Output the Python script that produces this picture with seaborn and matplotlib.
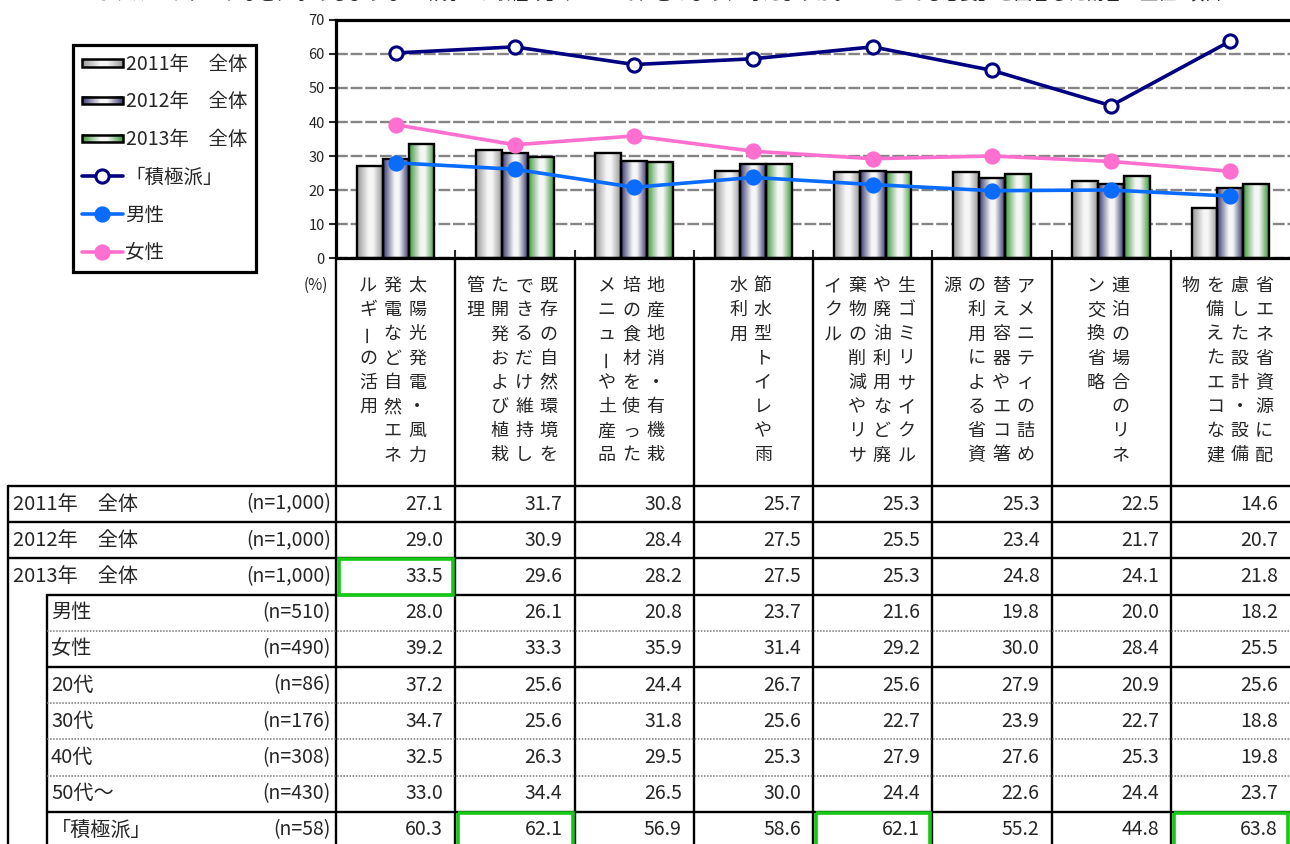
import numpy as np
import pandas as pd
import matplotlib
matplotlib.use("Agg")
import matplotlib.pyplot as plt
import seaborn as sns
from matplotlib.colors import LinearSegmentedColormap
from matplotlib.patches import Rectangle, Patch
from matplotlib.lines import Line2D
from matplotlib.legend_handler import HandlerBase
from matplotlib.image import BboxImage
from matplotlib.transforms import Bbox, TransformedBbox

# ---------------- data ----------------
title = "エコホテル・リゾートなどに求めるような「環境への取組み」について、どのように考えますか。　「とても必要」と回答した割合　上位8項目"
categories = [
    "太陽光発電・風力発電など自然エネルギーの活用",
    "既存の自然環境をできるだけ維持した開発および植栽管理",
    "地産地消・有機栽培の食材を使ったメニューや土産品",
    "節水型トイレや雨水利用",
    "生ゴミリサイクルや廃油利用など廃棄物の削減やリサイクル",
    "アメニティの詰め替え容器やエコ箸の利用による省資源",
    "連泊の場合のリネン交換省略",
    "省エネ省資源に配慮した設計・設備を備えたエコな建物",
]
year_labels = ["2011年　全体", "2012年　全体", "2013年　全体"]
y2011 = [27.1, 31.7, 30.8, 25.7, 25.3, 25.3, 22.5, 14.6]
y2012 = [29.0, 30.9, 28.4, 27.5, 25.5, 23.4, 21.7, 20.7]
y2013 = [33.5, 29.6, 28.2, 27.5, 25.3, 24.8, 24.1, 21.8]
male = [28.0, 26.1, 20.8, 23.7, 21.6, 19.8, 20.0, 18.2]
female = [39.2, 33.3, 35.9, 31.4, 29.2, 30.0, 28.4, 25.5]
age20 = [37.2, 25.6, 24.4, 26.7, 25.6, 27.9, 20.9, 25.6]
age30 = [34.7, 25.6, 31.8, 25.6, 22.7, 23.9, 22.7, 18.8]
age40 = [32.5, 26.3, 29.5, 25.3, 27.9, 27.6, 25.3, 19.8]
age50 = [33.0, 34.4, 26.5, 30.0, 24.4, 22.6, 24.4, 23.7]
active = [60.3, 62.1, 56.9, 58.6, 62.1, 55.2, 44.8, 63.8]

line_labels = ["「積極派」", "男性", "女性"]
row_labels = ["2011年　全体", "2012年　全体", "2013年　全体", "男性", "女性",
              "20代", "30代", "40代", "50代～", "「積極派」"]
row_n = ["(n=1,000)", "(n=1,000)", "(n=1,000)", "(n=510)", "(n=490)",
         "(n=86)", "(n=176)", "(n=308)", "(n=430)", "(n=58)"]
row_values = [y2011, y2012, y2013, male, female, age20, age30, age40, age50, active]
highlight_cells = [(2, 0), (9, 1), (9, 4), (9, 7)]
y_ticks = [0, 10, 20, 30, 40, 50, 60, 70]

# ---------------- style ----------------
sns.set_theme(style="white")
plt.rcParams["font.family"] = ["Noto Sans CJK JP", "DejaVu Sans"]

bar_edge_colors = ["#979797", "#3a3a70", "#3c983c"]
bar_light = "#f6f6f6"
line_colors = ["#000080", "#0a6cff", "#ff6fcf"]

W, H = 1290, 844
fig = plt.figure(figsize=(W / 100, H / 100), dpi=100)
ov = fig.add_axes([0, 0, 1, 1])
ov.set_xlim(0, W)
ov.set_ylim(H, 0)
ov.axis("off")

plot_left, plot_right, plot_top, plot_bottom = 336, 1290, 20, 258
ax = fig.add_axes([plot_left / W, 1 - plot_bottom / H,
                   (plot_right - plot_left) / W, (plot_bottom - plot_top) / H])


def grad_cmap(edge):
    return LinearSegmentedColormap.from_list(
        "g", [(0.0, edge), (0.45, bar_light), (0.62, bar_light), (1.0, edge)])


# ---------------- bars ----------------
n = len(categories)
df_bars = pd.DataFrame({
    "item": np.tile(np.arange(n), 3),
    "year": np.repeat(year_labels, n),
    "value": y2011 + y2012 + y2013,
})
sns.barplot(data=df_bars, x="item", y="value", hue="year", hue_order=year_labels,
            palette=bar_edge_colors, width=0.65, saturation=1, edgecolor="black",
            linewidth=1.7, legend=False, errorbar=None, ax=ax)

grad = np.linspace(0, 1, 128).reshape(1, -1)
for p in list(ax.patches):
    x0, w, h = p.get_x(), p.get_width(), p.get_height()
    fc = p.get_facecolor()
    ax.imshow(grad, extent=[x0, x0 + w, 0, h], aspect="auto",
              cmap=grad_cmap(fc[:3]), zorder=1.5, interpolation="bilinear")
    p.set_facecolor("none")
    p.set_zorder(2)

# ---------------- lines ----------------
idx = np.arange(n)
for vals, col, lab in zip([active, male, female], line_colors, line_labels):
    mfc = "white" if lab == "「積極派」" else col
    sns.lineplot(x=idx, y=vals, ax=ax, color=col, marker="o", markersize=9.5,
                 markerfacecolor=mfc, markeredgecolor=col, markeredgewidth=2.2,
                 linewidth=2.6, zorder=6)

ax.set_xlim(-0.5, n - 0.5)
ax.set_ylim(0, 70)
ax.set_yticks(y_ticks)
ax.set_yticklabels([str(t) for t in y_ticks], fontsize=10.5)
ax.set_xticks(np.arange(0.5, n - 1, 1))
ax.set_xticklabels([])
ax.tick_params(axis="y", left=True, direction="out", length=5, width=1.5, pad=3)
ax.tick_params(axis="x", bottom=True, direction="in", length=6, width=1.5)
ax.yaxis.grid(True, color="#858585", linewidth=1.7, linestyle=(0, (5, 1.2)))
ax.xaxis.grid(False)
ax.set_axisbelow(True)
ax.set_xlabel("")
ax.set_ylabel("")
for s in ax.spines.values():
    s.set_linewidth(2.3)
    s.set_color("black")
ax.spines["right"].set_visible(False)

# ---------------- legend ----------------
class GradHandler(HandlerBase):
    def __init__(self, edge):
        super().__init__()
        self.edge = edge

    def create_artists(self, legend, orig_handle, xdescent, ydescent,
                       width, height, fontsize, trans):
        hh = height * 0.55
        y0 = -ydescent + (height - hh) / 2
        bb = Bbox.from_bounds(-xdescent, y0, width, hh)
        img = BboxImage(TransformedBbox(bb, trans), cmap=grad_cmap(self.edge),
                        interpolation="bilinear")
        img.set_data(grad)
        rect = Rectangle((-xdescent, y0), width, hh, facecolor="none",
                         edgecolor="black", linewidth=1.8, transform=trans)
        return [img, rect]


bar_handles = [Patch(label=l) for l in year_labels]
line_handles = []
for col, lab in zip(line_colors, line_labels):
    mfc = "white" if lab == "「積極派」" else col
    line_handles.append(Line2D([], [], color=col, marker="o", markersize=9.5,
                               markerfacecolor=mfc, markeredgecolor=col,
                               markeredgewidth=2.2, linewidth=2.6))
hmap = {h: GradHandler(c) for h, c in zip(bar_handles, bar_edge_colors)}
leg = fig.legend(bar_handles + line_handles, year_labels + line_labels,
                 handler_map=hmap, loc="upper left",
                 bbox_to_anchor=(73 / W, 1 - 45 / H), frameon=True,
                 fancybox=False, edgecolor="black", framealpha=1, fontsize=14,
                 handlelength=2.1, handletextpad=0.15, labelspacing=0.86,
                 borderpad=0.45, borderaxespad=0)
leg.get_frame().set_linewidth(2.3)

# ---------------- category labels (vertical writing) ----------------
col_w = (plot_right - plot_left) / n
col_lefts = [plot_left + k * col_w for k in range(n)]
label_top, table_top = 260, 486
ov.text(316, 285, "(%)", fontsize=11, ha="center", va="center")
step_y, step_x, per_col = 24.2, 24.5, 8
for k, text in enumerate(categories):
    chunks = [text[i:i + per_col] for i in range(0, len(text), per_col)]
    cx = col_lefts[k] + col_w / 2 - 3
    ncol = len(chunks)
    for j, ch in enumerate(chunks):
        x = cx + (ncol - 1) / 2 * step_x - j * step_x
        for r, c in enumerate(ch):
            rot = 90 if c == "ー" else 0
            ov.text(x, 286 + r * step_y, c, fontsize=13, ha="center",
                    va="center", rotation=rot)

# ---------------- table ----------------
row_h = 36.2
lw_solid = 1.7
for k in range(n):
    x = col_lefts[k]
    ov.plot([x, x], [label_top, H], color="black", lw=lw_solid)
ov.plot([8, W], [table_top, table_top], color="black", lw=lw_solid)
ov.plot([8, 8], [table_top, H], color="black", lw=lw_solid)
ov.plot([47, 47], [table_top + 3 * row_h, H], color="black", lw=lw_solid)
for i in range(1, len(row_labels)):
    y = table_top + i * row_h
    if i in (1, 2):
        ov.plot([8, W], [y, y], color="black", lw=lw_solid)
    elif i in (3, 5, 9):
        ov.plot([47, W], [y, y], color="black", lw=lw_solid)
    else:
        ov.plot([47, W], [y, y], color="#777777", lw=1.1, linestyle=(0, (1, 1)))

for i, (lab, nn, vals) in enumerate(zip(row_labels, row_n, row_values)):
    yc = table_top + (i + 0.5) * row_h
    lx = 13 if i < 3 else 51
    ov.text(lx, yc, lab, fontsize=14.5, ha="left", va="center")
    ov.text(331, yc, nn, fontsize=14, ha="right", va="center")
    for k, v in enumerate(vals):
        ov.text(col_lefts[k] + col_w - 12, yc, f"{v:.1f}", fontsize=14,
                ha="right", va="center")

for (i, k) in highlight_cells:
    y0 = table_top + i * row_h
    ov.add_patch(Rectangle((col_lefts[k] + 3, y0 + 1), col_w - 5, row_h - 1,
                           facecolor="none", edgecolor="#14c814", linewidth=2.6,
                           zorder=5))

# ---------------- clipped title (cut at the top edge, as in the source) ----------------
ov.text(60, -4, title, fontsize=13, ha="left", va="center")

fig.savefig("out.png", dpi=100)
